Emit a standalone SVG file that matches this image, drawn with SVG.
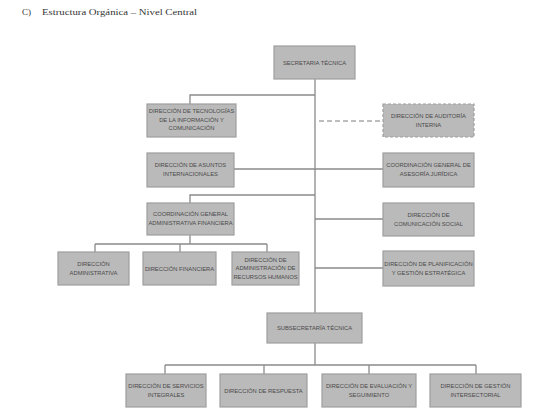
<svg xmlns="http://www.w3.org/2000/svg" width="551" height="415" viewBox="0 0 551 415">
<style>
.bx{fill:#bababa;stroke:#9e9e9e;stroke-width:1.2}
.dash{stroke-dasharray:3 2}
.t{font-family:"Liberation Sans",Arial,sans-serif;font-size:5.8px;fill:#4a4a4a;text-anchor:middle}
.title{font-family:"Liberation Serif","Times New Roman",serif;font-size:9px;fill:#333}
.ln{fill:none;stroke:#8a8a8a;stroke-width:1.3}
.dl{fill:none;stroke:#a8a8a8;stroke-width:1.6;stroke-dasharray:5 3}
</style>
<rect width="551" height="415" fill="#fff"/>
<text class="title" x="22" y="15">C)</text>
<text class="title" x="42" y="15" textLength="155" lengthAdjust="spacingAndGlyphs">Estructura Orgánica – Nivel Central</text>
<g id="connectors">
<path class="ln" d="M315 79V313M315 343V365M165 365H476M165 365V374M264 365V374M369 365V374M476 365V374"/>
<path class="ln" d="M190 104V95H315"/>
<path class="ln" d="M234 169H383"/>
<path class="ln" d="M190 203V195H315"/>
<path class="ln" d="M315 219H383M315 268H383"/>
<path class="ln" d="M190 235V244M95 244H267M95 244V252M180 244V252M267 244V252"/>
<path class="dl" d="M319 121H383"/>
</g>
<g id="secretaria"><rect class="bx" x="274" y="46" width="81" height="33"/><text class="t" x="314.5" y="64.5">SECRETARIA TÉCNICA</text></g>
<g id="dtic"><rect class="bx" x="147" y="104" width="89" height="33"/><text class="t" x="191.5" y="113">DIRECCIÓN DE TECNOLOGÍAS</text><text class="t" x="191.5" y="121.5">DE LA INFORMACIÓN Y</text><text class="t" x="191.5" y="130">COMUNICACIÓN</text></g>
<g id="auditoria"><rect class="bx dash" x="383" y="104" width="91" height="33"/><text class="t" x="428.5" y="118">DIRECCIÓN DE AUDITORÍA</text><text class="t" x="428.5" y="127">INTERNA</text></g>
<g id="asuntos"><rect class="bx" x="147" y="153" width="87" height="34"/><text class="t" x="190.5" y="167">DIRECCIÓN DE ASUNTOS</text><text class="t" x="190.5" y="176">INTERNACIONALES</text></g>
<g id="juridica"><rect class="bx" x="383" y="153" width="91" height="34"/><text class="t" x="428.5" y="167">COORDINACIÓN GENERAL DE</text><text class="t" x="428.5" y="176">ASESORÍA JURÍDICA</text></g>
<g id="cgaf"><rect class="bx" x="147" y="203" width="87" height="32"/><text class="t" x="190.5" y="216">COORDINACIÓN GENERAL</text><text class="t" x="190.5" y="225">ADMINISTRATIVA FINANCIERA</text></g>
<g id="comunicacion"><rect class="bx" x="383" y="203" width="91" height="33"/><text class="t" x="428.5" y="217">DIRECCIÓN DE</text><text class="t" x="428.5" y="226">COMUNICACIÓN SOCIAL</text></g>
<g id="planificacion"><rect class="bx" x="383" y="251" width="91" height="35"/><text class="t" x="428.5" y="266">DIRECCIÓN DE PLANIFICACIÓN</text><text class="t" x="428.5" y="275">Y GESTIÓN ESTRATÉGICA</text></g>
<g id="administrativa"><rect class="bx" x="58" y="252" width="71" height="33"/><text class="t" x="93.5" y="266">DIRECCIÓN</text><text class="t" x="93.5" y="275">ADMINISTRATIVA</text></g>
<g id="financiera"><rect class="bx" x="143" y="252" width="73" height="33"/><text class="t" x="179.5" y="270.5">DIRECCIÓN FINANCIERA</text></g>
<g id="rrhh"><rect class="bx" x="232" y="252" width="67" height="33"/><text class="t" x="265.5" y="261.5">DIRECCIÓN DE</text><text class="t" x="265.5" y="270">ADMINISTRACIÓN DE</text><text class="t" x="265.5" y="278.5">RECURSOS HUMANOS</text></g>
<g id="subsecretaria"><rect class="bx" x="267" y="313" width="95" height="30"/><text class="t" x="314.5" y="330">SUBSECRETARÍA TÉCNICA</text></g>
<g id="servicios"><rect class="bx" x="126" y="374" width="80" height="33"/><text class="t" x="166" y="388">DIRECCIÓN DE SERVICIOS</text><text class="t" x="166" y="397">INTEGRALES</text></g>
<g id="respuesta"><rect class="bx" x="220" y="374" width="87" height="33"/><text class="t" x="263.5" y="392.5">DIRECCIÓN DE RESPUESTA</text></g>
<g id="evaluacion"><rect class="bx" x="322" y="374" width="94" height="33"/><text class="t" x="369" y="388">DIRECCIÓN DE EVALUACIÓN Y</text><text class="t" x="369" y="397">SEGUIMIENTO</text></g>
<g id="intersectorial"><rect class="bx" x="430" y="374" width="91" height="33"/><text class="t" x="475.5" y="388">DIRECCIÓN DE GESTIÓN</text><text class="t" x="475.5" y="397">INTERSECTORIAL</text></g>
</svg>
